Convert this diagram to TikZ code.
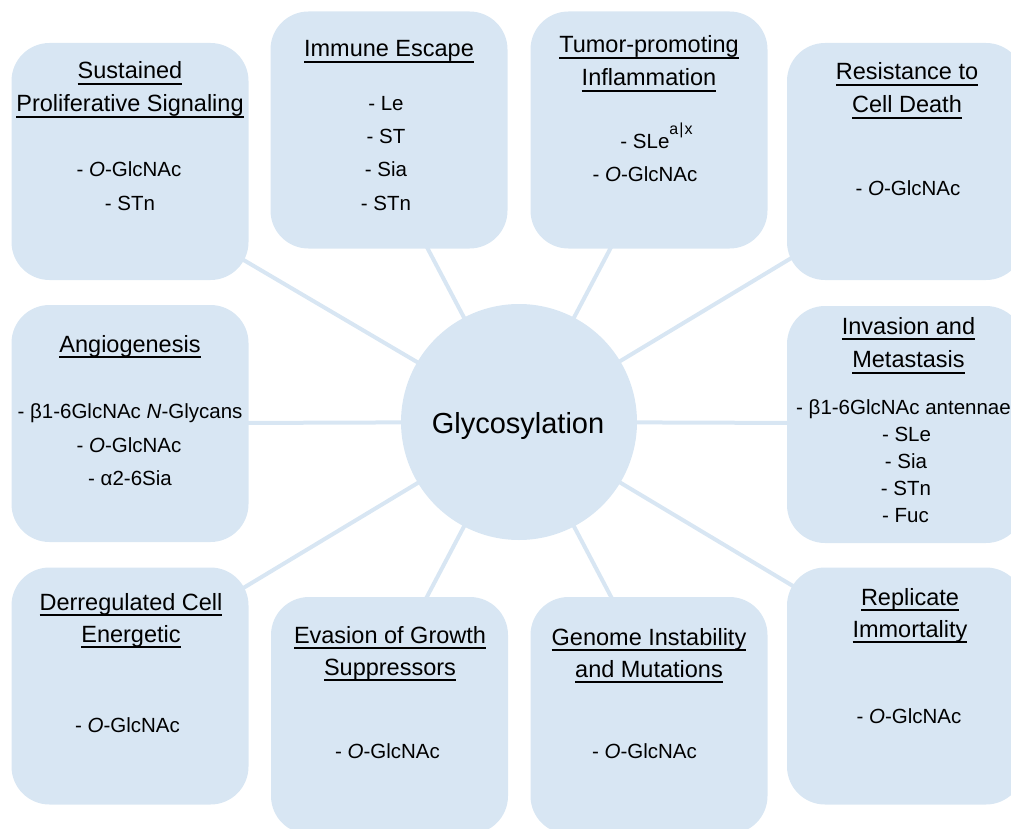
\documentclass[tikz,border=0pt]{standalone}
\usepackage{fontspec}
\setmainfont{Liberation Sans}
\usetikzlibrary{backgrounds}
\definecolor{boxblue}{RGB}{216,230,243}
\newcommand\myul[1]{\leavevmode\setbox0\hbox{#1}\rlap{\rule[-6pt]{\wd0}{1.8pt}}\box0}
\begin{document}
\begin{tikzpicture}[x=1pt,y=-1pt,
  card/.style={fill=boxblue, draw=none, rounded corners=38pt, minimum width=237pt, minimum height=237pt, inner sep=0pt},
  hub/.style={circle, fill=boxblue, draw=none, minimum size=236pt, inner sep=0pt},
  ttl/.style={anchor=base, inner sep=0pt, font=\fontsize{23.5}{28}\selectfont},
  itm/.style={anchor=base, inner sep=0pt, font=\fontsize{20.5}{24}\selectfont},
  spoke/.style={draw=boxblue, line width=4pt}]
\useasboundingbox (0,0) rectangle (1011,829);
\clip (0,0) rectangle (1011,829);

% central hub
\node[hub] (hub) at (519,422) {};
\node[anchor=base, inner sep=0pt, font=\fontsize{29}{34}\selectfont] (hubt) at (518,433) {Glycosylation};

% cards
\node[card] (b1) at (130,161.5) {};
\node[card] (b2) at (389,130) {};
\node[card] (b3) at (649,130) {};
\node[card] (b4) at (905.5,161.5) {};
\node[card] (b5) at (130,423.5) {};
\node[card] (b6) at (905.5,424.5) {};
\node[card] (b7) at (130,686) {};
\node[card] (b8) at (389.5,715.5) {};
\node[card] (b9) at (649,715.5) {};
\node[card] (b10) at (905.5,686) {};

% spoke end points inside the cards
\coordinate (l1) at (230,252);
\coordinate (l2) at (420,234);
\coordinate (l3) at (618,234);
\coordinate (l4) at (808,248);
\coordinate (l5) at (230,423);
\coordinate (l6) at (808,423);
\coordinate (l7) at (230,596);
\coordinate (l8) at (420,610);
\coordinate (l9) at (618,610);
\coordinate (l10) at (808,595);

\begin{scope}[on background layer]
\foreach \e in {l1,l2,l3,l4,l5,l6,l7,l8,l9,l10}
  \draw[spoke] (hub.center) -- (\e);
\end{scope}

% 1 Sustained Proliferative Signaling
\node[ttl] (t1a) at (130,79) {\myul{Sustained}};
\node[ttl] (t1b) at (130,112) {\myul{Proliferative Signaling}};
\node[itm] (i1a) at (129,177) {- \textit{O}-GlcNAc};
\node[itm] (i1b) at (130,210) {- STn};

% 2 Immune Escape
\node[ttl] (t2a) at (389,57) {\myul{Immune Escape}};
\node[itm] (i2a) at (386,111) {- Le};
\node[itm] (i2b) at (386,144) {- ST};
\node[itm] (i2c) at (386,177) {- Sia};
\node[itm] (i2d) at (386,210) {- STn};

% 3 Tumor-promoting Inflammation
\node[ttl] (t3a) at (649,53) {\myul{Tumor-promoting}};
\node[ttl] (t3b) at (649,86) {\myul{Inflammation}};
\node[itm] (i3a) at (656.5,149) {- SLe\raisebox{14pt}{\fontsize{16}{18}\selectfont a\kern1pt|\kern1pt x}};
\node[itm] (i3b) at (645,182) {- \textit{O}-GlcNAc};

% 4 Resistance to Cell Death
\node[ttl] (t4a) at (907,80) {\myul{Resistance to}};
\node[ttl] (t4b) at (907,113) {\myul{Cell Death}};
\node[itm] (i4a) at (908,195) {- \textit{O}-GlcNAc};

% 5 Angiogenesis
\node[ttl] (t5a) at (130,352) {\myul{Angiogenesis}};
\node[itm] (i5a) at (130,418) {- β1-6GlcNAc \textit{N}-Glycans};
\node[itm] (i5b) at (129,452) {- \textit{O}-GlcNAc};
\node[itm] (i5c) at (130,485) {- α2-6Sia};

% 6 Invasion and Metastasis
\node[ttl] (t6a) at (908.5,334) {\myul{Invasion and}};
\node[ttl] (t6b) at (908.5,367.5) {\myul{Metastasis}};
\node[itm, anchor=base west] (i6a) at (796,414) {- β1-6GlcNAc antennae};
\node[itm] (i6b) at (906.5,441) {- SLe};
\node[itm] (i6c) at (906,468) {- Sia};
\node[itm] (i6d) at (906,495) {- STn};
\node[itm] (i6e) at (905.5,522) {- Fuc};

% 7 Derregulated Cell Energetic
\node[ttl] (t7a) at (131,610) {\myul{Derregulated Cell}};
\node[ttl] (t7b) at (131,642) {\myul{Energetic}};
\node[itm] (i7a) at (127.5,732) {- \textit{O}-GlcNAc};

% 8 Evasion of Growth Suppressors
\node[ttl] (t8a) at (390,643) {\myul{Evasion of Growth}};
\node[ttl] (t8b) at (390,675) {\myul{Suppressors}};
\node[itm] (i8a) at (387.5,758) {- \textit{O}-GlcNAc};

% 9 Genome Instability and Mutations
\node[ttl] (t9a) at (649,645) {\myul{Genome Instability}};
\node[ttl] (t9b) at (649,677) {\myul{and Mutations}};
\node[itm] (i9a) at (644.5,758) {- \textit{O}-GlcNAc};

% 10 Replicate Immortality
\node[ttl] (t10a) at (910,605) {\myul{Replicate}};
\node[ttl] (t10b) at (910,637) {\myul{Immortality}};
\node[itm] (i10a) at (909,723) {- \textit{O}-GlcNAc};
\end{tikzpicture}
\end{document}
